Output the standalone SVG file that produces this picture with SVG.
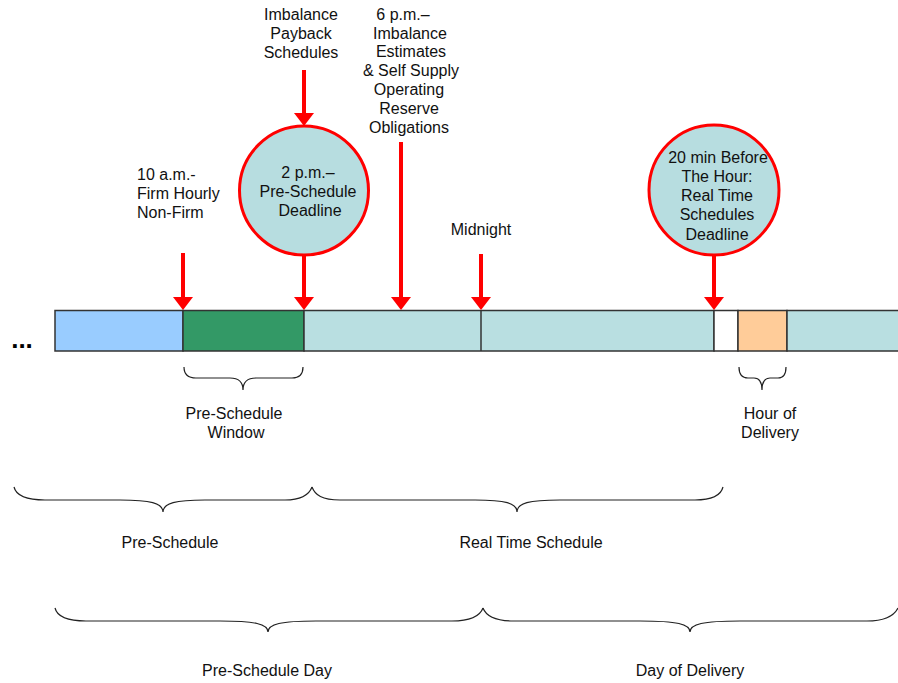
<svg xmlns="http://www.w3.org/2000/svg" width="898" height="683" viewBox="0 0 898 683">
<defs>
<style>
text{font-family:"Liberation Sans",Arial,sans-serif;font-size:16px;fill:#111;text-anchor:middle}
.l{text-anchor:start}
.seg{stroke:#333;stroke-width:1.5}
.arr{stroke:#ff0000;stroke-width:4;fill:none}
.brace{stroke:#222;stroke-width:1.2;fill:none}
.circ{fill:#b7dde0;stroke:#ff0000;stroke-width:3}
</style>
<marker id="ah" viewBox="0 0 13 20" refX="5" refY="10" markerWidth="13" markerHeight="20" markerUnits="userSpaceOnUse" orient="auto">
<path d="M0,0 L13,10 L0,20 z" fill="#ff0000"/>
</marker>
</defs>
<rect width="898" height="683" fill="#fff"/>

<g id="timeline">
<rect class="seg" x="55" y="310.5" width="128" height="40.5" fill="#99ccff"/>
<rect class="seg" x="183" y="310.5" width="121" height="40.5" fill="#339966"/>
<rect class="seg" x="304" y="310.5" width="410" height="40.5" fill="#b9dfe1"/>
<line class="seg" x1="481" y1="310.5" x2="481" y2="351"/>
<rect class="seg" x="714" y="310.5" width="24" height="40.5" fill="#ffffff"/>
<rect class="seg" x="738" y="310.5" width="49" height="40.5" fill="#ffcc99"/>
<rect class="seg" x="787" y="310.5" width="115" height="40.5" fill="#b9dfe1"/>
<text x="22" y="348" style="font-size:26px;font-weight:bold;fill:#000">...</text>
</g>

<g id="connectors">
<line class="arr" x1="183" y1="253" x2="183" y2="302" marker-end="url(#ah)"/>
<line class="arr" x1="304" y1="70" x2="304" y2="118" marker-end="url(#ah)"/>
<line class="arr" x1="304" y1="255" x2="304" y2="302" marker-end="url(#ah)"/>
<line class="arr" x1="401" y1="142" x2="401" y2="302" marker-end="url(#ah)"/>
<line class="arr" x1="481" y1="254" x2="481" y2="302" marker-end="url(#ah)"/>
<line class="arr" x1="714" y1="255" x2="714" y2="302" marker-end="url(#ah)"/>
</g>

<g id="node-firm">
<text class="l" x="137" y="180">10 a.m.-</text>
<text class="l" x="137" y="199">Firm Hourly</text>
<text class="l" x="137" y="218">Non-Firm</text>
</g>

<g id="node-imbalance-payback">
<text x="301" y="20">Imbalance</text>
<text x="301" y="39">Payback</text>
<text x="301" y="58">Schedules</text>
</g>

<g id="node-2pm">
<circle class="circ" cx="304" cy="190.5" r="64.5"/>
<text x="308" y="178">2 p.m.–</text>
<text x="308" y="197">Pre-Schedule</text>
<text x="310" y="216">Deadline</text>
</g>

<g id="node-6pm">
<text x="403" y="20">6 p.m.–</text>
<text x="410" y="39">Imbalance</text>
<text x="411" y="57">Estimates</text>
<text x="411" y="76">&amp; Self Supply</text>
<text x="409" y="95">Operating</text>
<text x="409" y="114">Reserve</text>
<text x="409" y="133">Obligations</text>
</g>

<g id="node-midnight">
<text x="481" y="235">Midnight</text>
</g>

<g id="node-20min">
<circle class="circ" cx="714" cy="190" r="65"/>
<text x="718" y="163">20 min Before</text>
<text x="717" y="182">The Hour:</text>
<text x="717" y="201">Real Time</text>
<text x="717" y="220">Schedules</text>
<text x="717" y="240">Deadline</text>
</g>

<g id="node-window">
<path class="brace" d="M184,367 C184,373 187,378 196,378 L230,378 C238,378 243,382 243,390 C243,382 248,378 256,378 L292,378 C300,378 303,373 303,367"/>
<text x="234" y="419">Pre-Schedule</text>
<text x="236" y="438">Window</text>
</g>

<g id="node-hour">
<path class="brace" d="M739,367 C739,373 741,378 748,378 L754,378 C759,378 762,382 762,390 C762,382 765,378 770,378 L778,378 C784,378 786,373 786,367"/>
<text x="770" y="419">Hour of</text>
<text x="770" y="438">Delivery</text>
</g>

<g id="node-preschedule">
<path class="brace" d="M14,487 C16,495 26,500 45,500 L120,500 C150,500 163,503 163,512 C163,503 176,500 205,500 L285,500 C302,500 309,495 312,487"/>
<text x="170" y="548">Pre-Schedule</text>
</g>

<g id="node-realtime">
<path class="brace" d="M312,487 C315,495 322,500 340,500 L475,500 C505,500 517,503 517,512 C517,503 529,500 560,500 L695,500 C713,500 721,495 723,487"/>
<text x="531" y="548">Real Time Schedule</text>
</g>

<g id="node-psday">
<path class="brace" d="M55,608 C57,616 67,621 86,621 L220,621 C255,621 268,624 268,632 C268,624 281,621 316,621 L452,621 C471,621 480,616 483,608"/>
<text x="267" y="676">Pre-Schedule Day</text>
</g>

<g id="node-delivery">
<path class="brace" d="M483,608 C486,616 494,621 514,621 L640,621 C677,621 690,624 690,632 C690,624 703,621 740,621 L867,621 C886,621 894,616 898,608"/>
<text x="690" y="676">Day of Delivery</text>
</g>
</svg>
